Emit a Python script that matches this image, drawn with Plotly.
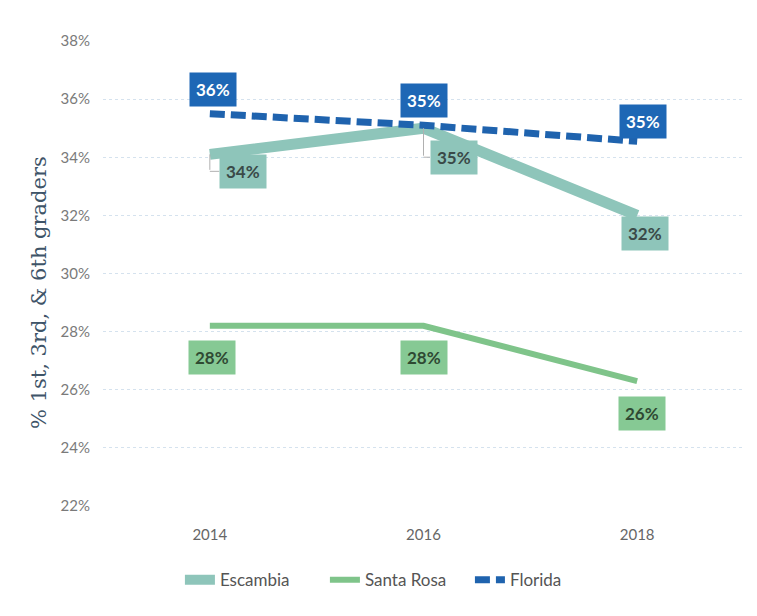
import plotly.graph_objects as go

years = ["2014", "2016", "2018"]
escambia = [34.1, 35.0, 32.0]
santa_rosa = [28.2, 28.2, 26.3]
florida = [35.5, 35.1, 34.55]
y_ticks = [22, 24, 26, 28, 30, 32, 34, 36, 38]

FONT = "Lato, Open Sans, sans-serif"
BOX_HALF_W = 22

series = [
    dict(name="Escambia", y=escambia, color="#8EC5BA", width=11, dash="solid",
         bg="#8EC5BA", fc="#3A4A48",
         offs=[(33, -17), (30, -29), (8, -18)], leader=True),
    dict(name="Santa Rosa", y=santa_rosa, color="#7FC48A", width=6, dash="solid",
         bg="#86C994", fc="#2F4A33",
         offs=[(2, -32), (0, -32), (5, -32)], leader=False),
    dict(name="Florida", y=florida, color="#1F63AE", width=7, dash="15px,6px",
         bg="#1E67B5", fc="#FFFFFF",
         offs=[(3, 24), (0, 25), (6, 20)], leader=False),
]

fig = go.Figure()
for s in series:
    fig.add_trace(go.Scatter(
        x=list(range(len(years))), y=s["y"], mode="lines", name=s["name"],
        line=dict(color=s["color"], width=s["width"], dash=s["dash"]),
    ))

anns = []
for s in series:
    for i, (yv, (dx, dy)) in enumerate(zip(s["y"], s["offs"])):
        if s["leader"] and dx - BOX_HALF_W > 0:
            anns.append(dict(
                x=i, y=yv, xref="x", yref="y", text="", showarrow=True,
                arrowhead=0, arrowwidth=1, arrowcolor="#B0B0B0",
                ax=0, ay=-dy, standoff=0, startstandoff=0,
            ))
            anns.append(dict(
                x=i, y=yv, xref="x", yref="y", text="", showarrow=True,
                arrowhead=0, arrowwidth=1, arrowcolor="#B0B0B0",
                ax=dx - BOX_HALF_W, ay=0, yshift=dy, standoff=0, startstandoff=0,
            ))
        anns.append(dict(
            x=i, y=yv, xref="x", yref="y",
            text="<b>%d%%</b>" % round(yv), showarrow=False,
            xshift=dx, yshift=dy, bgcolor=s["bg"], borderpad=6,
            font=dict(family=FONT, size=17, color=s["fc"]),
        ))

anns.append(dict(
    text="% 1st, 3rd, & 6th graders", xref="paper", yref="paper",
    x=-0.1, y=0.46, xanchor="center", yanchor="middle", showarrow=False,
    textangle=-90, font=dict(family="DejaVu Serif, serif", size=21, color="#3E5468"),
))

fig.update_layout(
    width=757, height=616,
    margin=dict(l=95, r=21, t=33, b=118),
    paper_bgcolor="white", plot_bgcolor="white",
    showlegend=True,
    annotations=anns,
    legend=dict(orientation="h", x=0.12, xanchor="left", y=-0.121, yanchor="top",
                entrywidth=100, entrywidthmode="pixels",
                font=dict(family=FONT, size=17, color="#555555"), traceorder="normal"),
    xaxis=dict(showgrid=False, zeroline=False, showline=False, automargin=False,
               tickvals=list(range(len(years))), ticktext=years, ticklabelstandoff=18,
               ticks="", tickfont=dict(family=FONT, size=15, color="#666666"),
               range=[-0.5, 2.5]),
    yaxis=dict(range=[22, 38], tickvals=y_ticks, ticktext=[f"{v}%" for v in y_ticks],
               showgrid=True, gridcolor="#D5E2EE", gridwidth=1, griddash="dot",
               zeroline=False, showline=False, ticks="", ticklabelstandoff=12,
               automargin=False,
               tickfont=dict(family=FONT, size=15, color="#7A7A7A")),
)

fig.write_html("out.html")
